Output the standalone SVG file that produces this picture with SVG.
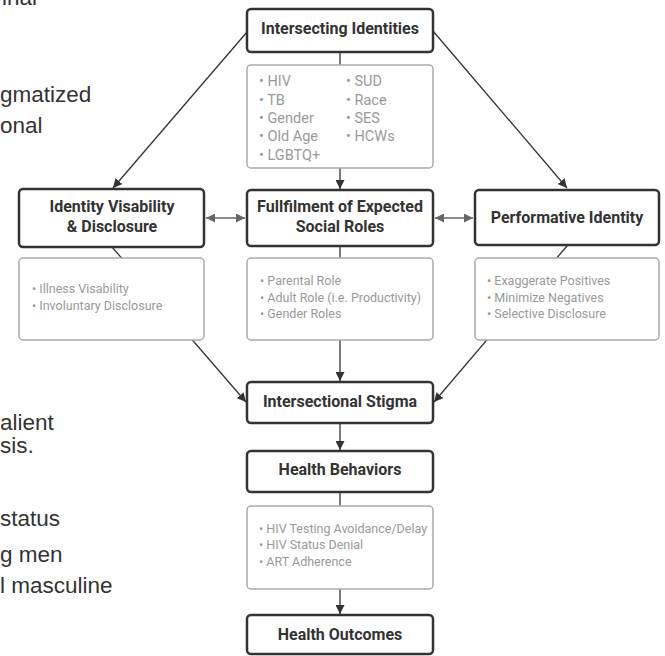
<svg xmlns="http://www.w3.org/2000/svg" width="665" height="656" viewBox="0 0 665 656">
<style>
.bg{fill:#fff}
.node rect{fill:#fff;stroke:#333;stroke-width:2.5}
.sub rect{fill:#fff;stroke:#aaa;stroke-width:1.5}
.title{font-family:Roboto,"Liberation Sans",sans-serif;font-weight:bold;font-size:16px;fill:#333;text-anchor:middle}
.item{font-family:Roboto,"Liberation Sans",sans-serif;font-size:12.5px;fill:#999}
.item14{font-family:Roboto,"Liberation Sans",sans-serif;font-size:14.5px;fill:#999}
.side{font-family:"Liberation Sans",Arial,sans-serif;font-size:22.5px;fill:#333}
.edge{stroke:#333;stroke-width:1.3;fill:none}
.dbl{stroke:#666;stroke-width:1.5;fill:none}
</style>
<defs>
<marker id="ah" viewBox="0 0 10 10" refX="10" refY="5" markerWidth="9" markerHeight="9" markerUnits="userSpaceOnUse" orient="auto">
<path d="M0,0 L10,5 L0,10 z" fill="#333"/>
</marker>
<marker id="ahg" viewBox="0 0 10 10" refX="10" refY="5" markerWidth="9" markerHeight="9" markerUnits="userSpaceOnUse" orient="auto-start-reverse">
<path d="M0,0 L10,5 L0,10 z" fill="#666"/>
</marker>
</defs>
<rect class="bg" x="0" y="0" width="665" height="656"/>

<g id="side-text">
<text class="side" x="2" y="5">inal</text>
<text class="side" x="0" y="102">gmatized</text>
<text class="side" x="0" y="133">onal</text>
<text class="side" x="0" y="430">alient</text>
<text class="side" x="0" y="453">sis.</text>
<text class="side" x="0" y="526">status</text>
<text class="side" x="0" y="562">g men</text>
<text class="side" x="0" y="593">l masculine</text>
</g>

<g id="connectors">
<line class="edge" x1="247" y1="32" x2="113" y2="188" marker-end="url(#ah)"/>
<line class="edge" x1="433" y1="31" x2="567" y2="188" marker-end="url(#ah)"/>
<line class="edge" x1="340" y1="52" x2="340" y2="189" marker-end="url(#ah)"/>
<line class="edge" x1="112" y1="247" x2="246" y2="402" marker-end="url(#ah)"/>
<line class="edge" x1="567" y1="246" x2="434" y2="402" marker-end="url(#ah)"/>
<line class="edge" x1="340" y1="246" x2="340" y2="381" marker-end="url(#ah)"/>
<line class="edge" x1="340" y1="423" x2="340" y2="450" marker-end="url(#ah)"/>
<line class="edge" x1="340" y1="492" x2="340" y2="614" marker-end="url(#ah)"/>
<line class="dbl" x1="206" y1="218" x2="245" y2="218" marker-start="url(#ahg)" marker-end="url(#ahg)"/>
<line class="dbl" x1="435" y1="218" x2="473" y2="218" marker-start="url(#ahg)" marker-end="url(#ahg)"/>
</g>

<g id="intersecting-identities" class="node">
<rect x="247" y="9" width="186" height="43" rx="4"/>
<text class="title" x="340" y="34">Intersecting Identities</text>
</g>
<g id="identities-list" class="sub">
<rect x="247" y="65" width="186" height="103" rx="4"/>
<text class="item14" x="259" y="86">• HIV</text>
<text class="item14" x="259" y="105">• TB</text>
<text class="item14" x="259" y="123">• Gender</text>
<text class="item14" x="259" y="141">• Old Age</text>
<text class="item14" x="259" y="160">• LGBTQ+</text>
<text class="item14" x="346" y="86">• SUD</text>
<text class="item14" x="346" y="105">• Race</text>
<text class="item14" x="346" y="123">• SES</text>
<text class="item14" x="346" y="141">• HCWs</text>
</g>

<g id="identity-visability" class="node">
<rect x="19" y="189" width="185" height="58" rx="4"/>
<text class="title" x="112" y="212">Identity Visability</text>
<text class="title" x="112" y="232">&amp; Disclosure</text>
</g>
<g id="visability-list" class="sub">
<rect x="19" y="258" width="185" height="82" rx="4"/>
<text class="item" x="32" y="293">• Illness Visability</text>
<text class="item" x="32" y="310">• Involuntary Disclosure</text>
</g>

<g id="social-roles" class="node">
<rect x="247" y="190" width="186" height="56" rx="4"/>
<text class="title" x="340" y="212">Fullfilment of Expected</text>
<text class="title" x="340" y="232">Social Roles</text>
</g>
<g id="roles-list" class="sub">
<rect x="247" y="258" width="186" height="82" rx="4"/>
<text class="item" x="260" y="285">• Parental Role</text>
<text class="item" x="260" y="302">• Adult Role (i.e. Productivity)</text>
<text class="item" x="260" y="318">• Gender Roles</text>
</g>

<g id="performative-identity" class="node">
<rect x="475" y="190" width="184" height="55" rx="4"/>
<text class="title" x="567" y="223">Performative Identity</text>
</g>
<g id="performative-list" class="sub">
<rect x="475" y="258" width="184" height="82" rx="4"/>
<text class="item" x="487" y="285">• Exaggerate Positives</text>
<text class="item" x="487" y="302">• Minimize Negatives</text>
<text class="item" x="487" y="318">• Selective Disclosure</text>
</g>

<g id="intersectional-stigma" class="node">
<rect x="247" y="382" width="186" height="41" rx="4"/>
<text class="title" x="340" y="407">Intersectional Stigma</text>
</g>

<g id="health-behaviors" class="node">
<rect x="247" y="451" width="186" height="41" rx="4"/>
<text class="title" x="340" y="475">Health Behaviors</text>
</g>
<g id="behaviors-list" class="sub">
<rect x="247" y="506" width="186" height="83" rx="4"/>
<text class="item" x="259" y="533">• HIV Testing Avoidance/Delay</text>
<text class="item" x="259" y="549">• HIV Status Denial</text>
<text class="item" x="259" y="566">• ART Adherence</text>
</g>

<g id="health-outcomes" class="node">
<rect x="247" y="615" width="186" height="39" rx="4"/>
<text class="title" x="340" y="640">Health Outcomes</text>
</g>
</svg>
